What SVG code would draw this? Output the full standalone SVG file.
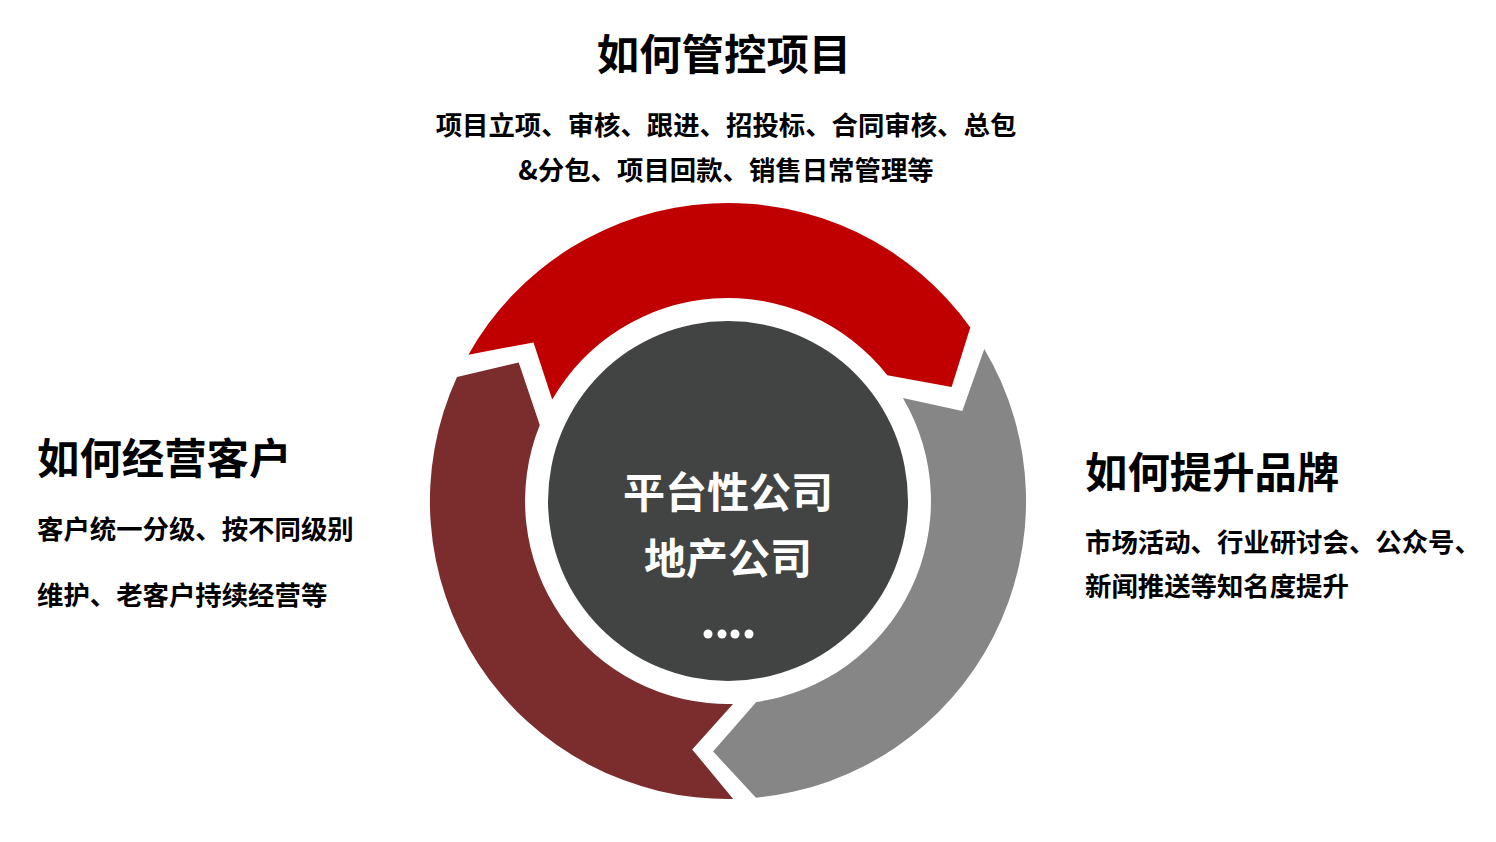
<svg xmlns="http://www.w3.org/2000/svg" width="1496" height="842" viewBox="0 0 1496 842">
<style>
.t{font-family:"Noto Sans CJK SC","Noto Sans CJK JP",sans-serif;font-weight:700;fill:#000}
.h{font-size:42.4px}
.b{font-size:26.4px}
.c{font-family:"Noto Sans CJK SC",sans-serif;font-weight:700;font-size:42px;fill:#fff}
</style>
<rect width="1496" height="842" fill="#fff"/>
<g id="connectors">
<path id="arrow-red" fill="#C00000" d="M468.4,354.7 A298,298 0 0 1 970.3,327.5 L951.6,387 L887.3,375.2 A203,203 0 0 0 552.2,399.5 L533.5,342.4 Z"/>
<path id="arrow-gray" fill="#868686" d="M984.3,348.9 A298,298 0 0 1 756,797.7 L713.1,751.5 L756.3,702 A203,203 0 0 0 902.9,398 L962.3,411 Z"/>
<path id="arrow-maroon" fill="#7B2C2D" d="M733.2,799 A298,298 0 0 1 457,376.9 L518.7,362.5 L539.8,425 A203,203 0 0 0 733,703.9 L692.2,749.4 Z"/>
</g>
<g id="center">
<circle cx="728" cy="501" r="180" fill="#424443"/>
<text class="c" x="728" y="508" text-anchor="middle">平台性公司</text>
<text class="c" x="728" y="574" text-anchor="middle">地产公司</text>
<circle cx="708" cy="634" r="4.5" fill="#fff"/>
<circle cx="722" cy="634" r="4.5" fill="#fff"/>
<circle cx="735" cy="634" r="4.5" fill="#fff"/>
<circle cx="749" cy="634" r="4.5" fill="#fff"/>
</g>
<g id="top">
<text class="t h" x="724" y="70" text-anchor="middle">如何管控项目</text>
<text class="t b" x="726" y="135" text-anchor="middle">项目立项、审核、跟进、招投标、合同审核、总包</text>
<text class="t b" x="726" y="180" text-anchor="middle">&amp;分包、项目回款、销售日常管理等</text>
</g>
<g id="left">
<text class="t h" x="37" y="474">如何经营客户</text>
<text class="t b" x="37" y="539">客户统一分级、按不同级别</text>
<text class="t b" x="37" y="605">维护、老客户持续经营等</text>
</g>
<g id="right">
<text class="t h" x="1085" y="488">如何提升品牌</text>
<text class="t b" x="1085" y="552">市场活动、行业研讨会、公众号、</text>
<text class="t b" x="1085" y="596">新闻推送等知名度提升</text>
</g>
</svg>
